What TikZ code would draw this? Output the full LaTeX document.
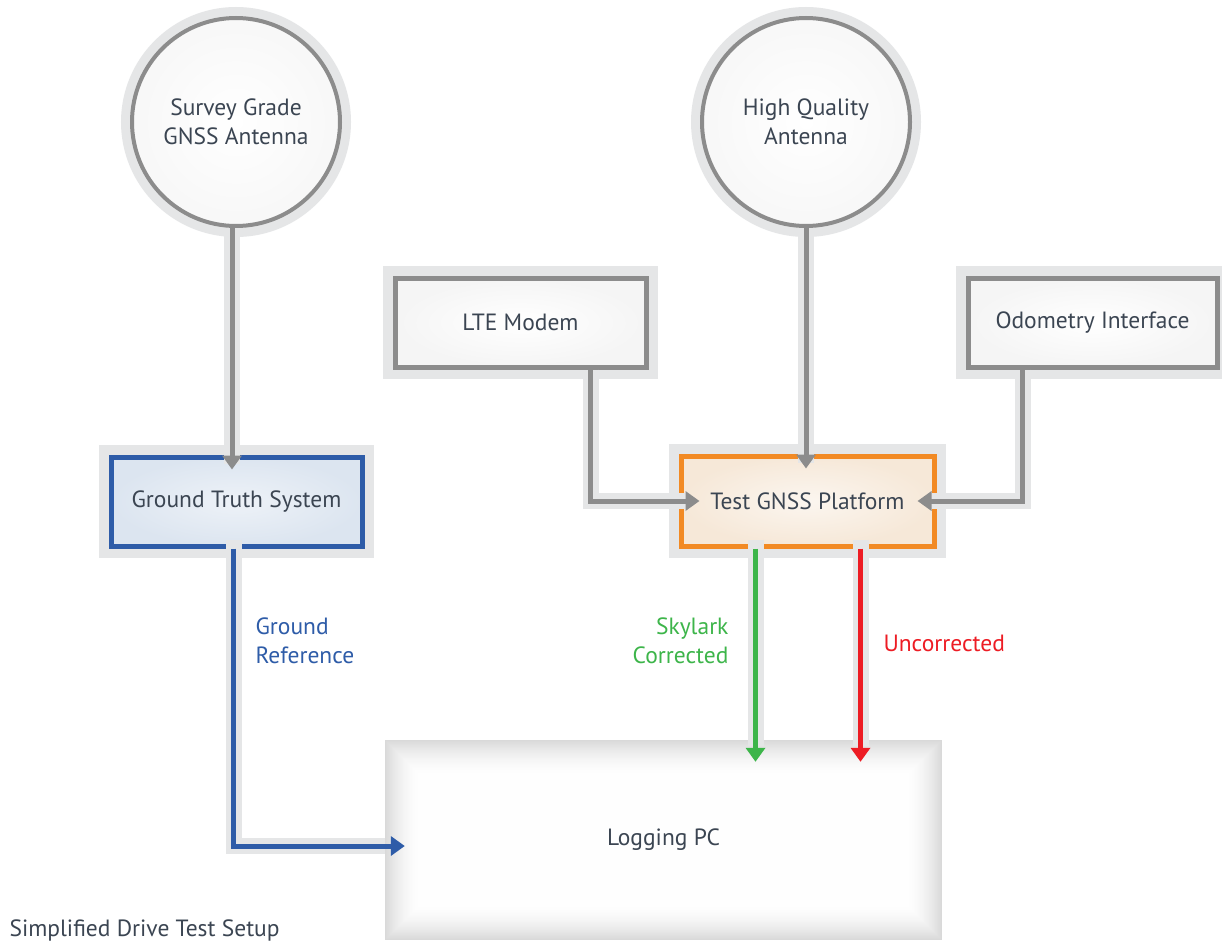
\documentclass[tikz,border=0pt]{standalone}
\usepackage{fontspec}
\setmainfont{PT Sans}
\usetikzlibrary{arrows.meta,calc}
\definecolor{txt}{HTML}{3B4552}
\definecolor{lgray}{HTML}{8C8C8C}
\definecolor{halo}{HTML}{E5E6E7}
\definecolor{blu}{HTML}{2E5CA8}
\definecolor{grn}{HTML}{3DB54A}
\definecolor{rd}{HTML}{ED1C24}
\definecolor{org}{HTML}{F28A24}
\definecolor{gtfill}{HTML}{DCE5F0}
\definecolor{tgfill}{HTML}{F6E8D8}
\tikzset{
  lbl/.style={font=\fontsize{23.5}{29}\selectfont, text=txt, align=center},
  ant/.style={lbl, circle, minimum size=208, draw=lgray, line width=4,
    inner color=white, outer color=black!3,
    preaction={draw=halo, line width=22}},
  gbox/.style={lbl, rectangle, minimum width=251, minimum height=89, line width=5,
    preaction={draw=halo, line width=24}},
  conn/.style={line width=5, -{Triangle[length=14pt,width=19pt]}},
  halopath/.style={line width=16, draw=halo},
}
\begin{document}
\begin{tikzpicture}[x=1pt,y=-1pt]
\useasboundingbox (0,0) rectangle (1222,942);
\fill[white] (0,0) rectangle (1222,942);
% Logging PC glow
\foreach \i in {0,...,40} {
  \pgfmathsetmacro\c{max(0.5,15*(1-\i/40)^2)}
  \fill[black!\c] (385+\i,740+\i) rectangle (942-\i,940-\i);
}
% nodes
\node[ant] (ant1) at (236,122) {Survey Grade\\GNSS Antenna};
\node[ant] (ant2) at (806,122) {High Quality\\Antenna};
\node[gbox, draw=lgray, inner color=white, outer color=black!4] (lte) at (520.5,322.5) {LTE Modem};
\node[gbox, draw=lgray, inner color=white, outer color=black!4, minimum width=249] (odo) at (1092.5,322.5) {Odometry Interface};
\node[gbox, draw=blu, inner color=gtfill!50, outer color=gtfill] (gts) at (236.5,501.5) {Ground Truth System};
\node[gbox, draw=org, inner color=tgfill!40, outer color=tgfill, minimum width=253, minimum height=90] (tgp) at (807.5,501) {Test GNSS Platform};
\node[lbl, minimum width=557, minimum height=200] (lpc) at (663.5,840) {Logging PC};
% halos of connectors
\draw[halopath] ([xshift=-4]ant1.south) -- ([xshift=-4,yshift=-9]ant1.south |- gts.north);
\draw[halopath] (ant2.south) -- ([yshift=-9]ant2.south |- tgp.north);
\draw[halopath] ([xshift=70]lte.south) |- ([xshift=9]tgp.west);
\draw[halopath] ([xshift=-70]odo.south) |- ([xshift=-9]tgp.east);
\draw[halopath] ([xshift=-52,yshift=9]tgp.south) -- ([xshift=-52,yshift=-6]tgp.south |- lpc.north);
\draw[halopath] ([xshift=53,yshift=9]tgp.south) -- ([xshift=53,yshift=-6]tgp.south |- lpc.north);
\draw[halopath] ([xshift=-3,yshift=9]gts.south) |- ([yshift=-6]lpc.west);
% connectors
\draw[conn, lgray, shorten >=-15] ([xshift=-4]ant1.south) -- ([xshift=-4]ant1.south |- gts.north);
\draw[conn, lgray, shorten >=-15] (ant2.south) -- (ant2.south |- tgp.north);
\draw[conn, lgray, shorten >=-21] ([xshift=70]lte.south) |- (tgp.west);
\draw[conn, lgray, shorten >=-19] ([xshift=-70]odo.south) |- (tgp.east);
\draw[conn, grn, shorten >=-22] ([xshift=-52]tgp.south) -- ([xshift=-52]tgp.south |- lpc.north);
\draw[conn, rd, shorten >=-22] ([xshift=53]tgp.south) -- ([xshift=53]tgp.south |- lpc.north);
\draw[conn, blu, shorten >=-20] ([xshift=-3]gts.south) |- ([yshift=-6]lpc.west);
% labels
\node[lbl, text=blu, align=left, anchor=west] (gref) at (252,641) {Ground\\Reference};
\node[lbl, text=grn, align=right, anchor=east] (skc) at (732,641) {Skylark\\Corrected};
\node[lbl, text=rd, anchor=west] (unc) at (880,643) {Uncorrected};
\node[lbl, anchor=west] (cap) at (6,930) {Simplified Drive Test Setup};
\end{tikzpicture}
\end{document}
